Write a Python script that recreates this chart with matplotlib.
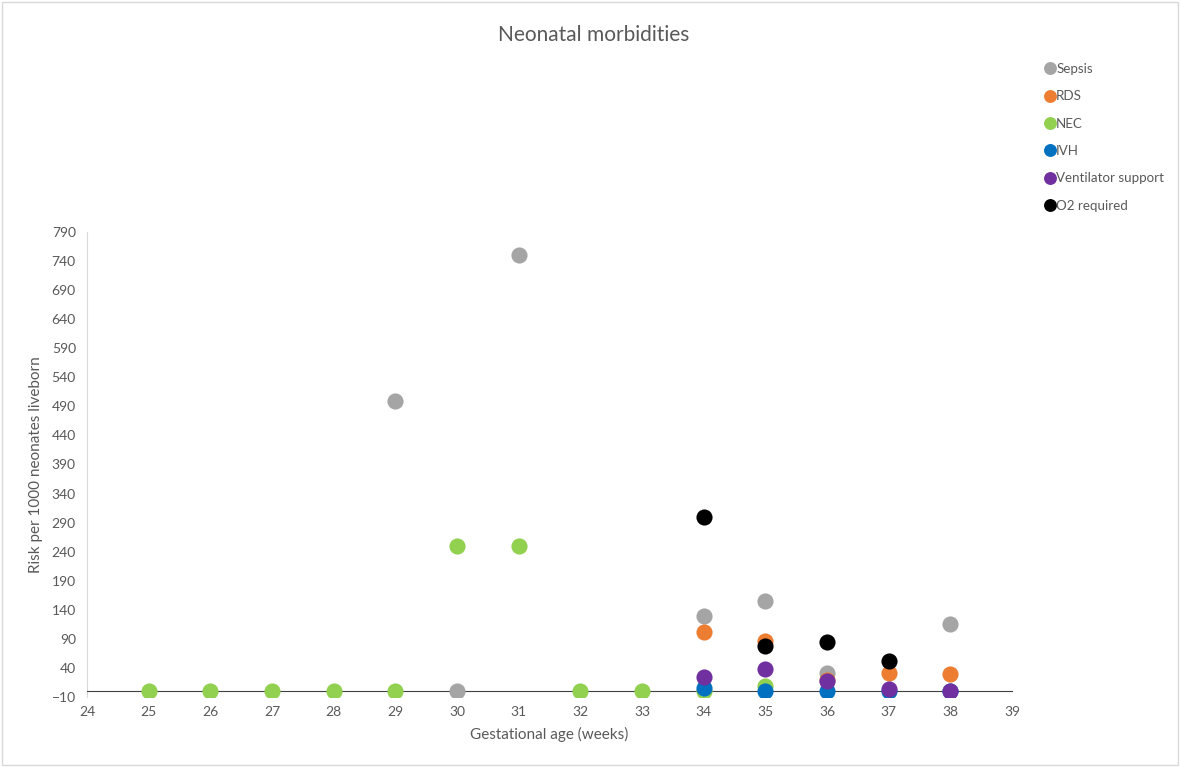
import matplotlib.pyplot as plt

plt.rcParams['font.family'] = ['Lato', 'DejaVu Sans']

# gestational age (weeks) and risk per 1000 liveborn, per morbidity
sepsis_x = [29, 30, 31, 34, 35, 36, 38]
sepsis_y = [500, 0, 750, 130, 155, 31, 116]

rds_x = [34, 35, 36, 37, 38]
rds_y = [101, 86, 19, 31, 29]

nec_x = [25, 26, 27, 28, 29, 30, 31, 32, 33, 34, 35]
nec_y = [0, 0, 0, 0, 0, 250, 250, 0, 0, 0, 9]

ivh_x = [34, 35, 36, 37, 38]
ivh_y = [5, 0, 0, 0, 0]

vent_x = [34, 35, 36, 37, 38]
vent_y = [24, 38, 18, 3, 0]

o2_x = [34, 35, 36, 37]
o2_y = [300, 78, 84, 52]

series = [
    ("Sepsis", sepsis_x, sepsis_y, "#A5A5A5"),
    ("RDS", rds_x, rds_y, "#ED7D31"),
    ("NEC", nec_x, nec_y, "#92D050"),
    ("IVH", ivh_x, ivh_y, "#0070C0"),
    ("Ventilator support", vent_x, vent_y, "#7030A0"),
    ("O2 required", o2_x, o2_y, "#000000"),
]

txt = "#595959"

fig = plt.figure(figsize=(11.8, 7.67), dpi=100)
ax = fig.add_axes([0.0737, 0.0913, 0.784, 0.6062])

for name, xs, ys, col in series:
    ax.scatter(xs, ys, s=135, color=col, label=name, zorder=3, linewidths=0)

ax.set_xlim(24, 39)
ax.set_ylim(-10, 790)
ax.set_xticks(range(24, 40))
ax.set_yticks(range(-10, 791, 50))
ax.tick_params(colors=txt, labelsize=10, length=0)
ax.tick_params(axis="x", pad=11)
ax.tick_params(axis="y", pad=8)

for s in ["top", "right"]:
    ax.spines[s].set_visible(False)
ax.spines["left"].set_color("#D9D9D9")
ax.spines["bottom"].set_position(("data", 0))
ax.spines["bottom"].set_color("#404040")

ax.set_xlabel("Gestational age (weeks)", color=txt, fontsize=11, labelpad=6)
ax.set_ylabel("Risk per 1000 neonates liveborn", color=txt, fontsize=11, labelpad=6)
fig.text(0.503, 0.955, "Neonatal morbidities", ha="center", va="center",
         color=txt, fontsize=15)

fig.legend(loc="upper left", bbox_to_anchor=(0.8855, 0.918), frameon=False,
           fontsize=9.6, markerscale=0.8, handlelength=0.7, handletextpad=0.15,
           labelspacing=1.15, labelcolor=txt, borderaxespad=0, borderpad=0,
           scatteryoffsets=[0.5])

# light outer border like the chart area frame
fig.patches.append(plt.Rectangle((0.002, 0.003), 0.996, 0.994, transform=fig.transFigure,
                                 fill=False, edgecolor="#D9D9D9", linewidth=1))

fig.savefig("out.png", dpi=100)
